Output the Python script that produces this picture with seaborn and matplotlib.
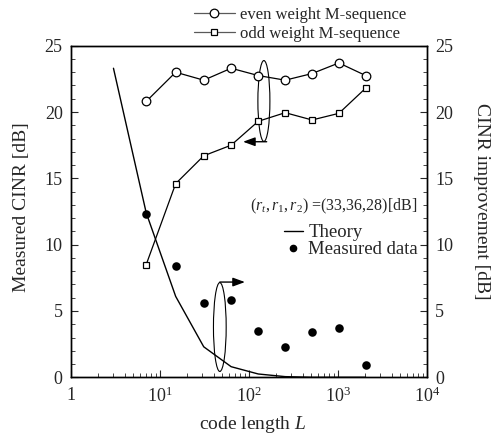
import matplotlib
matplotlib.use("Agg")
import matplotlib.pyplot as plt
from matplotlib.lines import Line2D
from matplotlib.patches import Ellipse
from matplotlib.ticker import MultipleLocator, FixedLocator, FixedFormatter, LogLocator, NullFormatter
import numpy as np
import pandas as pd
import seaborn as sns

# M-sequence code lengths (2^n - 1)
code_length = [7, 15, 31, 63, 127, 255, 511, 1023, 2047]
even_cinr = [20.8, 23.0, 22.4, 23.3, 22.75, 22.4, 22.9, 23.7, 22.75]
odd_cinr = [8.5, 14.6, 16.7, 17.5, 19.3, 19.95, 19.4, 19.9, 21.8]
measured_improvement = [12.3, 8.4, 5.6, 5.8, 3.5, 2.3, 3.4, 3.7, 0.9]

theory_length = [3, 7, 15, 31, 63, 127, 255, 511, 1023, 2047]
theory_improvement = [23.3, 12.4, 6.1, 2.3, 0.8, 0.25, 0.05, 0.0, 0.0, 0.0]

x_ticks = [1, 10, 100, 1000, 10000]
x_tick_labels = ["1", r"$10^{1}$", r"$10^{2}$", r"$10^{3}$", r"$10^{4}$"]
y_ticks = [0, 5, 10, 15, 20, 25]

sns.set_style("ticks")
plt.rcParams.update({
    "mathtext.fontset": "custom",
    "mathtext.rm": "Liberation Serif",
    "mathtext.it": "Liberation Serif:italic",
    "mathtext.bf": "Liberation Serif:bold",
    "axes.linewidth": 1.0,
    "xtick.direction": "in",
    "ytick.direction": "in",
})
plt.rcParams["font.family"] = ["Liberation Serif", "DejaVu Serif"]

W, H = 497, 434
fig = plt.figure(figsize=(W / 100, H / 100), dpi=100)
ax = fig.add_axes([71 / W, 1 - 377.3 / H, (427 - 71) / W, (377.3 - 45.7) / H])
ax.set_xscale("log")
ax.set_xlim(1, 1e4)
ax.set_ylim(0, 25)
ax2 = ax.twinx()
ax2.set_ylim(0, 25)

df = pd.DataFrame({"L": code_length, "even": even_cinr, "odd": odd_cinr,
                   "measured": measured_improvement})
theory_df = pd.DataFrame({"L": theory_length, "theory": theory_improvement})

# Measured CINR for the two M-sequence families (left axis)
sns.lineplot(data=df, x="L", y="even", ax=ax, color="black", lw=0.9,
             marker="o", markersize=6.2, markerfacecolor="white",
             markeredgecolor="black", markeredgewidth=0.9)
sns.lineplot(data=df, x="L", y="odd", ax=ax, color="black", lw=0.9,
             marker="s", markersize=4.6, markerfacecolor="white",
             markeredgecolor="black", markeredgewidth=0.9)

# CINR improvement: theory curve and measured points (right axis)
sns.lineplot(data=theory_df, x="L", y="theory", ax=ax2, color="black", lw=1.0)
sns.scatterplot(data=df, x="L", y="measured", ax=ax2, color="black",
                s=38, edgecolor="black", linewidth=0)

# Axes styling
for a in (ax, ax2):
    a.set_xlim(1, 1e4)
    a.set_ylim(0, 25)
    a.set_xlabel("")
    a.set_ylabel("")
    for s in a.spines.values():
        s.set_visible(True)
        s.set_color("black")
        s.set_linewidth(1.0)

ax.xaxis.set_major_locator(FixedLocator(x_ticks))
ax.xaxis.set_major_formatter(FixedFormatter(x_tick_labels))
ax.xaxis.set_minor_locator(LogLocator(base=10, subs=np.arange(2, 10), numticks=20))
ax.xaxis.set_minor_formatter(NullFormatter())
ax.tick_params(axis="x", which="both", top=False, bottom=True, labelsize=13, pad=7)
ax.tick_params(axis="x", which="major", length=5, width=0.8)
ax.tick_params(axis="x", which="minor", length=3, width=0.6)

for a, side in ((ax, "left"), (ax2, "right")):
    a.yaxis.set_major_locator(FixedLocator(y_ticks))
    a.yaxis.set_minor_locator(MultipleLocator(1))
    a.tick_params(axis="y", which="both", labelsize=13, pad=6)
    a.tick_params(axis="y", which="major", length=5, width=0.8)
    a.tick_params(axis="y", which="minor", length=3, width=0.6)
ax.tick_params(axis="y", which="both", right=False)
ax2.tick_params(axis="y", which="both", left=False)

ax.set_xlabel(r"code length $L$", fontsize=14, va="center")
ax.xaxis.set_label_coords(0.51, -0.142)
ax.set_ylabel("Measured CINR [dB]", fontsize=14, va="center")
ax.yaxis.set_label_coords(-0.14, 0.514)
ax2.set_ylabel("CINR improvement [dB]", fontsize=14, rotation=-90, va="center")
ax2.yaxis.set_label_coords(1.154, 0.532)

# Ellipses grouping the curves with their axis, plus pointing arrows
def frac(L, v):
    return np.log10(L) / 4.0, v / 25.0

ax.add_patch(Ellipse(frac(147, 20.83), 0.135 / 4, 6.1 / 25, transform=ax.transAxes,
                     fill=False, edgecolor="black", lw=0.8))
ax.add_patch(Ellipse(frac(47, 3.79), 0.143 / 4, 6.7 / 25, transform=ax.transAxes,
                     fill=False, edgecolor="black", lw=0.8))
arrow_style = dict(arrowstyle="-|>,head_length=0.6,head_width=0.22", color="black",
                   lw=1.0, shrinkA=0, shrinkB=0, mutation_scale=12)
ax.annotate("", xy=(85.7, 17.76), xytext=(158, 17.76), arrowprops=arrow_style)
ax.annotate("", xy=(90, 7.18), xytext=(47, 7.18), arrowprops=arrow_style)

ax.text(0.972, 0.514, r"$(r_t,r_1,r_2)$ =(33,36,28)[dB]", transform=ax.transAxes,
        ha="right", va="center", fontsize=11.5)

inner_handles = [Line2D([], [], color="black", lw=1.0),
                 Line2D([], [], ls="none", marker="o", ms=4.5, color="black")]
ax2.legend(inner_handles, ["Theory", "Measured data"], loc="upper right",
           bbox_to_anchor=(0.975, 0.462), frameon=False, fontsize=13.5,
           handlelength=1.0, handletextpad=0.3, borderpad=0, borderaxespad=0,
           labelspacing=0.0)

top_handles = [Line2D([], [], color="0.35", lw=0.9, marker="o", ms=6.2,
                      mfc="white", mec="black", mew=0.9),
               Line2D([], [], color="0.35", lw=0.9, marker="s", ms=4.6,
                      mfc="white", mec="black", mew=0.9)]
fig.legend(top_handles, ["even weight M-sequence", "odd weight M-sequence"],
           loc="upper left", bbox_to_anchor=(194 / W, 1 - 7 / H), frameon=False,
           fontsize=12, handlelength=2.45, handletextpad=0.3, borderpad=0,
           borderaxespad=0, labelspacing=0.15)

fig.savefig("out.png", dpi=100)
